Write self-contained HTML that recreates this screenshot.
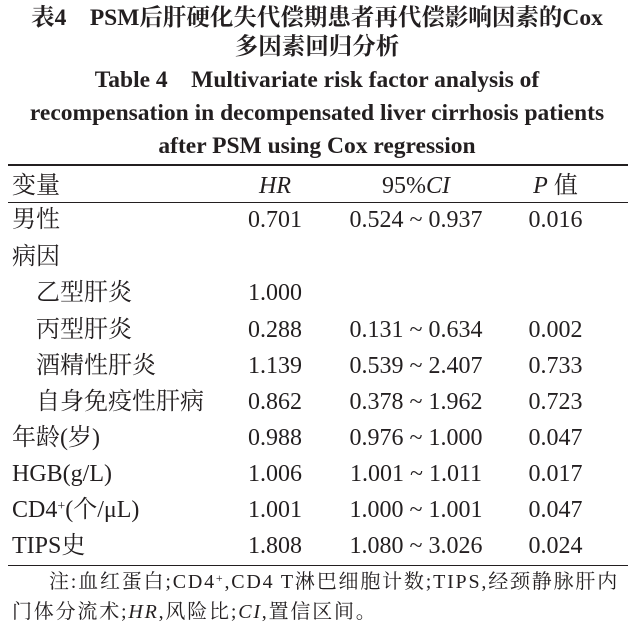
<!DOCTYPE html>
<html><head><meta charset="utf-8"><style>
body{margin:0;width:634px;height:637px;background:#fff;position:relative;overflow:hidden;color:#231f20;font-family:"Liberation Serif","Noto Serif CJK SC",serif}
.t{position:absolute;left:0;width:634px;text-align:center;font-weight:bold;font-size:23.5px;line-height:24px;white-space:nowrap}
.r{position:absolute;font-size:24px;white-space:nowrap;line-height:24px}
.c1{left:12px}.c2{left:215px;width:120px;text-align:center}.c3{left:338px;width:156px;text-align:center}.c4{left:498px;width:115px;text-align:center}
.hl{position:absolute;left:8px;width:620px;background:#231f20}
.n{position:absolute;left:49px;font-size:20px;line-height:20px;letter-spacing:1.8px;white-space:nowrap}
sup{position:relative;top:-0.5em;vertical-align:baseline;line-height:0}
</style></head><body>
<div class="t" style="top:6px">表4　PSM后肝硬化失代偿期患者再代偿影响因素的Cox</div>
<div class="t" style="top:35px">多因素回归分析</div>
<div class="t" style="top:68px">Table 4　Multivariate risk factor analysis of</div>
<div class="t" style="top:101px">recompensation in decompensated liver cirrhosis patients</div>
<div class="t" style="top:134px">after PSM using Cox regression</div>
<div class="hl" style="top:164px;height:2px"></div>
<div class="hl" style="top:202px;height:1px"></div>
<div class="hl" style="top:565px;height:1px"></div>
<div class="r c1" style="top:174px">变量</div><div class="r c2" style="top:174px"><i>HR</i></div><div class="r c3" style="top:174px">95%<i>CI</i></div><div class="r c4" style="top:174px"><i>P</i> 值</div>
<div class="r c1" style="top:208px">男性</div><div class="r c2" style="top:208px">0.701</div><div class="r c3" style="top:208px">0.524 ~ 0.937</div><div class="r c4" style="top:208px">0.016</div>
<div class="r c1" style="top:245px">病因</div>
<div class="r c1" style="top:281px;left:36px">乙型肝炎</div><div class="r c2" style="top:281px">1.000</div>
<div class="r c1" style="top:318px;left:36px">丙型肝炎</div><div class="r c2" style="top:318px">0.288</div><div class="r c3" style="top:318px">0.131 ~ 0.634</div><div class="r c4" style="top:318px">0.002</div>
<div class="r c1" style="top:354px;left:36px">酒精性肝炎</div><div class="r c2" style="top:354px">1.139</div><div class="r c3" style="top:354px">0.539 ~ 2.407</div><div class="r c4" style="top:354px">0.733</div>
<div class="r c1" style="top:390px;left:36px">自身免疫性肝病</div><div class="r c2" style="top:390px">0.862</div><div class="r c3" style="top:390px">0.378 ~ 1.962</div><div class="r c4" style="top:390px">0.723</div>
<div class="r c1" style="top:426px">年龄(岁)</div><div class="r c2" style="top:426px">0.988</div><div class="r c3" style="top:426px">0.976 ~ 1.000</div><div class="r c4" style="top:426px">0.047</div>
<div class="r c1" style="top:462px">HGB(g/L)</div><div class="r c2" style="top:462px">1.006</div><div class="r c3" style="top:462px">1.001 ~ 1.011</div><div class="r c4" style="top:462px">0.017</div>
<div class="r c1" style="top:498px">CD4<sup style="font-size:14px">+</sup>(个/μL)</div><div class="r c2" style="top:498px">1.001</div><div class="r c3" style="top:498px">1.000 ~ 1.001</div><div class="r c4" style="top:498px">0.047</div>
<div class="r c1" style="top:534px">TIPS史</div><div class="r c2" style="top:534px">1.808</div><div class="r c3" style="top:534px">1.080 ~ 3.026</div><div class="r c4" style="top:534px">0.024</div>
<div class="n" style="top:572px">注:血红蛋白;CD4<sup style="font-size:12px">+</sup>,CD4 T淋巴细胞计数;TIPS,经颈静脉肝内</div>
<div class="n" style="top:602px;left:12px">门体分流术;<i>HR</i>,风险比;<i>CI</i>,置信区间。</div>
</body></html>
